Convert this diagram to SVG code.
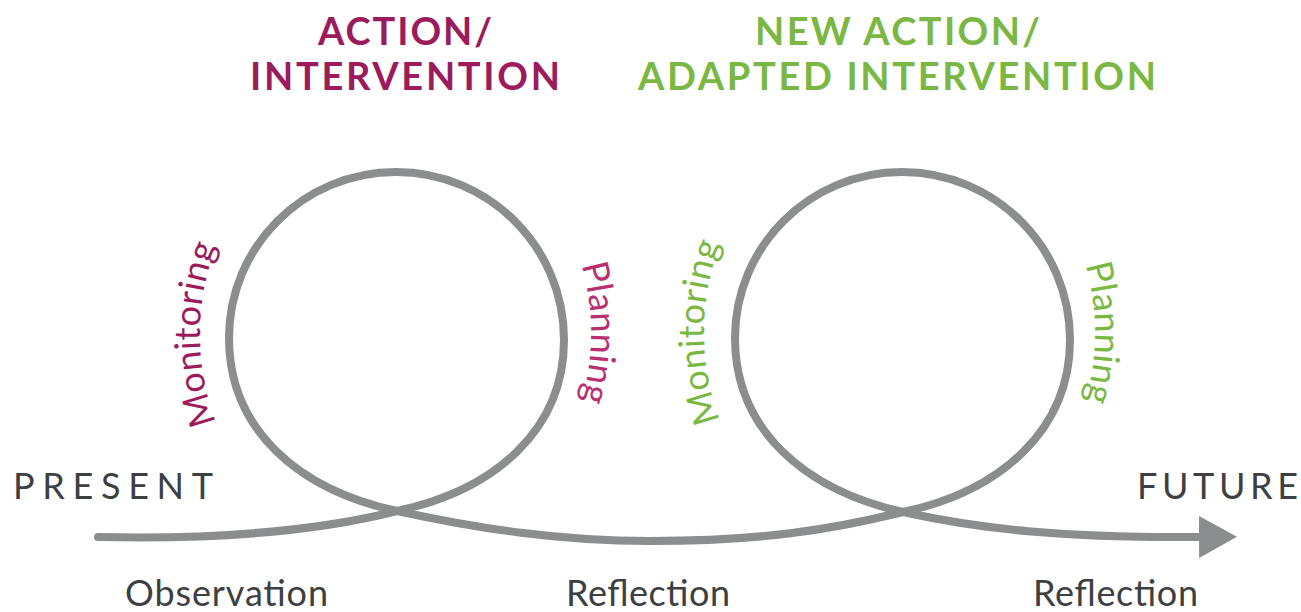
<svg xmlns="http://www.w3.org/2000/svg" width="1301" height="612" viewBox="0 0 1301 612">
<style>
.t{font-family:Lato,"Liberation Sans",sans-serif;}
.title{font-size:38px;font-weight:700;}
.plum{fill:#9c1b5c;}
.pink{fill:#b8306f;}
.green{fill:#7ab843;}
.lbl{font-size:36px;fill:#3d4042;}
.arc{font-size:36px;}
.line{fill:none;stroke:#8c8d8f;stroke-width:8;stroke-linecap:round;stroke-linejoin:round;}
</style>
<defs>
<marker id="arrow" markerUnits="userSpaceOnUse" markerWidth="40" markerHeight="42" viewBox="0 0 40 42" refX="1" refY="21" orient="auto">
<path d="M0,0 L38,21 L0,42 Z" fill="#8c8d8f"/>
</marker>
<path id="mon1" d="M224.9,442.8 A250,250 0 0 1 224.9,225.2"/>
<path id="pla1" d="M566.1,224.2 A250,250 0 0 1 566.1,441.8"/>
<path id="mon2" d="M728.9,440.8 A250,250 0 0 1 728.9,223.2"/>
<path id="pla2" d="M1070.1,224.2 A250,250 0 0 1 1070.1,441.8"/>
</defs>
<g id="connectors">
<path class="line" marker-end="url(#arrow)" d="M98,537 C230,540 330,528 397,511 C495,490 564,430 564,340 C564,247 489,172 396,172 C303,172 229,247 229,338 C229,430 299,490 397,511 C480,529 560,541 650,541 C760,541 830,530 903,512 C1001,491 1070,430 1070,340 C1070,247 995,172 902,172 C809,172 735,247 735,338 C735,430 805,490 903,512 C980,529 1060,538 1200,537"/>
</g>
<g id="title-action">
<text class="t title plum" x="318" y="45" textLength="174" lengthAdjust="spacing">ACTION/</text>
<text class="t title plum" x="250" y="90" textLength="310" lengthAdjust="spacing">INTERVENTION</text>
</g>
<g id="title-new-action">
<text class="t title green" x="755" y="45" textLength="285" lengthAdjust="spacing">NEW ACTION/</text>
<text class="t title green" x="638" y="90" textLength="518" lengthAdjust="spacing">ADAPTED INTERVENTION</text>
</g>
<g id="monitoring-1">
<text class="t arc plum" letter-spacing="0.5" text-anchor="middle"><textPath href="#mon1" startOffset="50%">Monitoring</textPath></text>
</g>
<g id="planning-1">
<text class="t arc pink" letter-spacing="0.3" text-anchor="middle"><textPath href="#pla1" startOffset="50%">Planning</textPath></text>
</g>
<g id="monitoring-2">
<text class="t arc green" letter-spacing="0.5" text-anchor="middle"><textPath href="#mon2" startOffset="50%">Monitoring</textPath></text>
</g>
<g id="planning-2">
<text class="t arc green" letter-spacing="0.3" text-anchor="middle"><textPath href="#pla2" startOffset="50%">Planning</textPath></text>
</g>
<g id="present">
<text class="t lbl" x="13" y="499" textLength="200" lengthAdjust="spacing">PRESENT</text>
</g>
<g id="future">
<text class="t lbl" x="1137" y="499" textLength="161" lengthAdjust="spacing">FUTURE</text>
</g>
<g id="observation">
<text class="t lbl" x="125" y="606" textLength="203" lengthAdjust="spacing">Observation</text>
</g>
<g id="reflection-1">
<text class="t lbl" x="566" y="606" textLength="164" lengthAdjust="spacing">Reflection</text>
</g>
<g id="reflection-2">
<text class="t lbl" x="1033" y="606" textLength="165" lengthAdjust="spacing">Reflection</text>
</g>
</svg>
